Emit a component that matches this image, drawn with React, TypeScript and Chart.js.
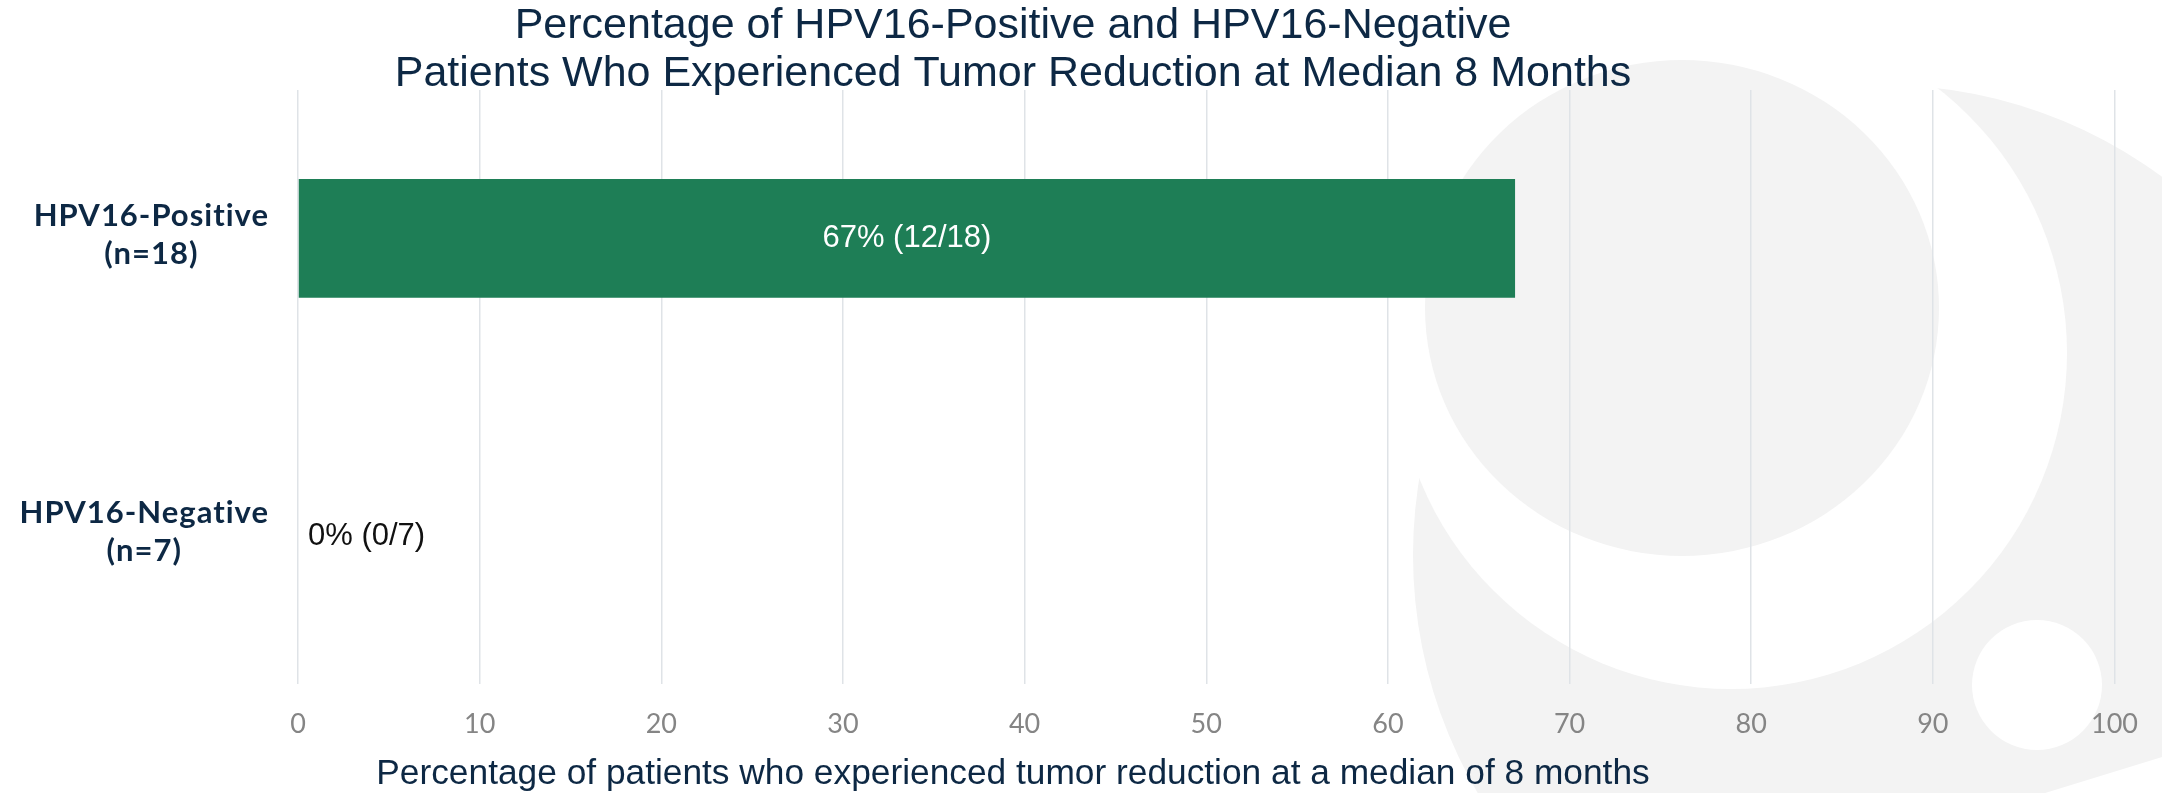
import React, { useEffect, useRef } from 'react';
import { Chart, registerables } from 'chart.js';

Chart.register(...registerables);

// ---- data ----
const categories = ['HPV16-Positive', 'HPV16-Negative'];
const percentages = [67, 0];
const responders = [12, 0];
const totals = [18, 7];
const xTickValues = [0, 10, 20, 30, 40, 50, 60, 70, 80, 90, 100];
const titleLines = [
  'Percentage of HPV16-Positive and HPV16-Negative',
  'Patients Who Experienced Tumor Reduction at Median 8 Months',
];
const xAxisTitle = 'Percentage of patients who experienced tumor reduction at a median of 8 months';

// ---- styles ----
const NAVY = '#0d2844';
const BAR_GREEN = '#1e7e56';
const LOGO_GRAY = '#f3f3f3';

const decorPlugin = {
  id: 'decor',
  beforeDraw(chart: any) {
    const ctx = chart.ctx;
    ctx.save();
    // faint background logo
    ctx.fillStyle = LOGO_GRAY;
    ctx.beginPath();
    ctx.arc(1883, 555, 470, 0, Math.PI * 2);
    ctx.fill();
    ctx.fillStyle = '#ffffff';
    ctx.beginPath();
    ctx.arc(1731, 353, 336, 0, Math.PI * 2);
    ctx.fill();
    ctx.fillStyle = LOGO_GRAY;
    ctx.beginPath();
    ctx.ellipse(1682, 308, 257, 248, 0, 0, Math.PI * 2);
    ctx.fill();
    ctx.fillStyle = '#ffffff';
    ctx.beginPath();
    ctx.arc(2037, 685, 65, 0, Math.PI * 2);
    ctx.fill();
    ctx.beginPath();
    ctx.moveTo(2162, 757);
    ctx.lineTo(2162, 793);
    ctx.lineTo(2045, 793);
    ctx.closePath();
    ctx.fill();
    ctx.restore();
  },
  afterDatasetsDraw(chart: any) {
    const ctx = chart.ctx;
    const area = chart.chartArea;
    const yScale = chart.scales.y;
    const meta = chart.getDatasetMeta(0);
    ctx.save();

    // value labels
    ctx.font = "31px 'Liberation Sans', Arial, sans-serif";
    ctx.textBaseline = 'middle';
    meta.data.forEach((bar: any, i: number) => {
      const txt = `${percentages[i]}% (${responders[i]}/${totals[i]})`;
      if (percentages[i] > 0) {
        ctx.fillStyle = '#ffffff';
        ctx.textAlign = 'center';
        ctx.fillText(txt, (bar.base + bar.x) / 2, bar.y);
      } else {
        ctx.fillStyle = '#111111';
        ctx.textAlign = 'left';
        ctx.fillText(txt, bar.x + 10, bar.y + 1);
      }
    });

    // category labels (each centred on its widest line, block right-aligned)
    ctx.font = "bold 31px Lato, 'Open Sans', sans-serif";
    try { (ctx as any).letterSpacing = '1px'; } catch (e) {}
    ctx.fillStyle = NAVY;
    ctx.textAlign = 'center';
    const rightEdge = area.left - 29;
    categories.forEach((cat, i) => {
      const lines = [cat, `(n=${totals[i]})`];
      const maxW = Math.max(...lines.map((l) => ctx.measureText(l).width));
      const cx = rightEdge - maxW / 2;
      const cy = yScale.getPixelForValue(i);
      ctx.fillText(lines[0], cx, cy - 22);
      ctx.fillText(lines[1], cx, cy + 16);
    });
    try { (ctx as any).letterSpacing = '0px'; } catch (e) {}

    // chart title
    const centerX = 1013;
    ctx.font = "43px 'Liberation Sans', Arial, sans-serif";
    ctx.fillStyle = NAVY;
    ctx.textAlign = 'center';
    ctx.fillText(titleLines[0], centerX, 26);
    ctx.fillText(titleLines[1], centerX, 74);

    // x-axis title
    ctx.font = "35.3px 'Liberation Sans', Arial, sans-serif";
    ctx.fillText(xAxisTitle, centerX, 774);
    ctx.restore();
  },
};

export default function App() {
  const canvasRef = useRef<HTMLCanvasElement | null>(null);

  useEffect(() => {
    document.body.style.margin = '0';
    document.body.style.overflow = 'hidden';
    const canvas = canvasRef.current;
    if (!canvas) return;
    const chart = new Chart(canvas, {
      type: 'bar',
      data: {
        labels: categories,
        datasets: [
          {
            data: percentages,
            backgroundColor: BAR_GREEN,
            borderWidth: 0,
            barPercentage: 0.5,
            categoryPercentage: 0.8,
          },
        ],
      },
      options: {
        indexAxis: 'y',
        animation: false,
        responsive: true,
        maintainAspectRatio: false,
        layout: { padding: { left: 298, right: 24, top: 90, bottom: 29 } },
        plugins: {
          legend: { display: false },
          tooltip: { enabled: false },
          title: { display: false },
        },
        scales: {
          x: {
            min: 0,
            max: 100,
            afterBuildTicks: (scale: any) => {
              scale.ticks = xTickValues.map((v) => ({ value: v }));
            },
            ticks: {
              color: '#858585',
              font: { family: 'Lato, sans-serif', size: 27, weight: '400' },
              padding: 24,
              maxRotation: 0,
            },
            grid: { color: '#dfe3e7', lineWidth: 1.5, drawTicks: false },
            border: { display: false },
          },
          y: {
            display: false,
          },
        },
      },
      plugins: [decorPlugin],
    });
    return () => chart.destroy();
  }, []);

  return (
    <div style={{ width: '2162px', height: '793px', position: 'relative' }}>
      <canvas ref={canvasRef} />
    </div>
  );
}
